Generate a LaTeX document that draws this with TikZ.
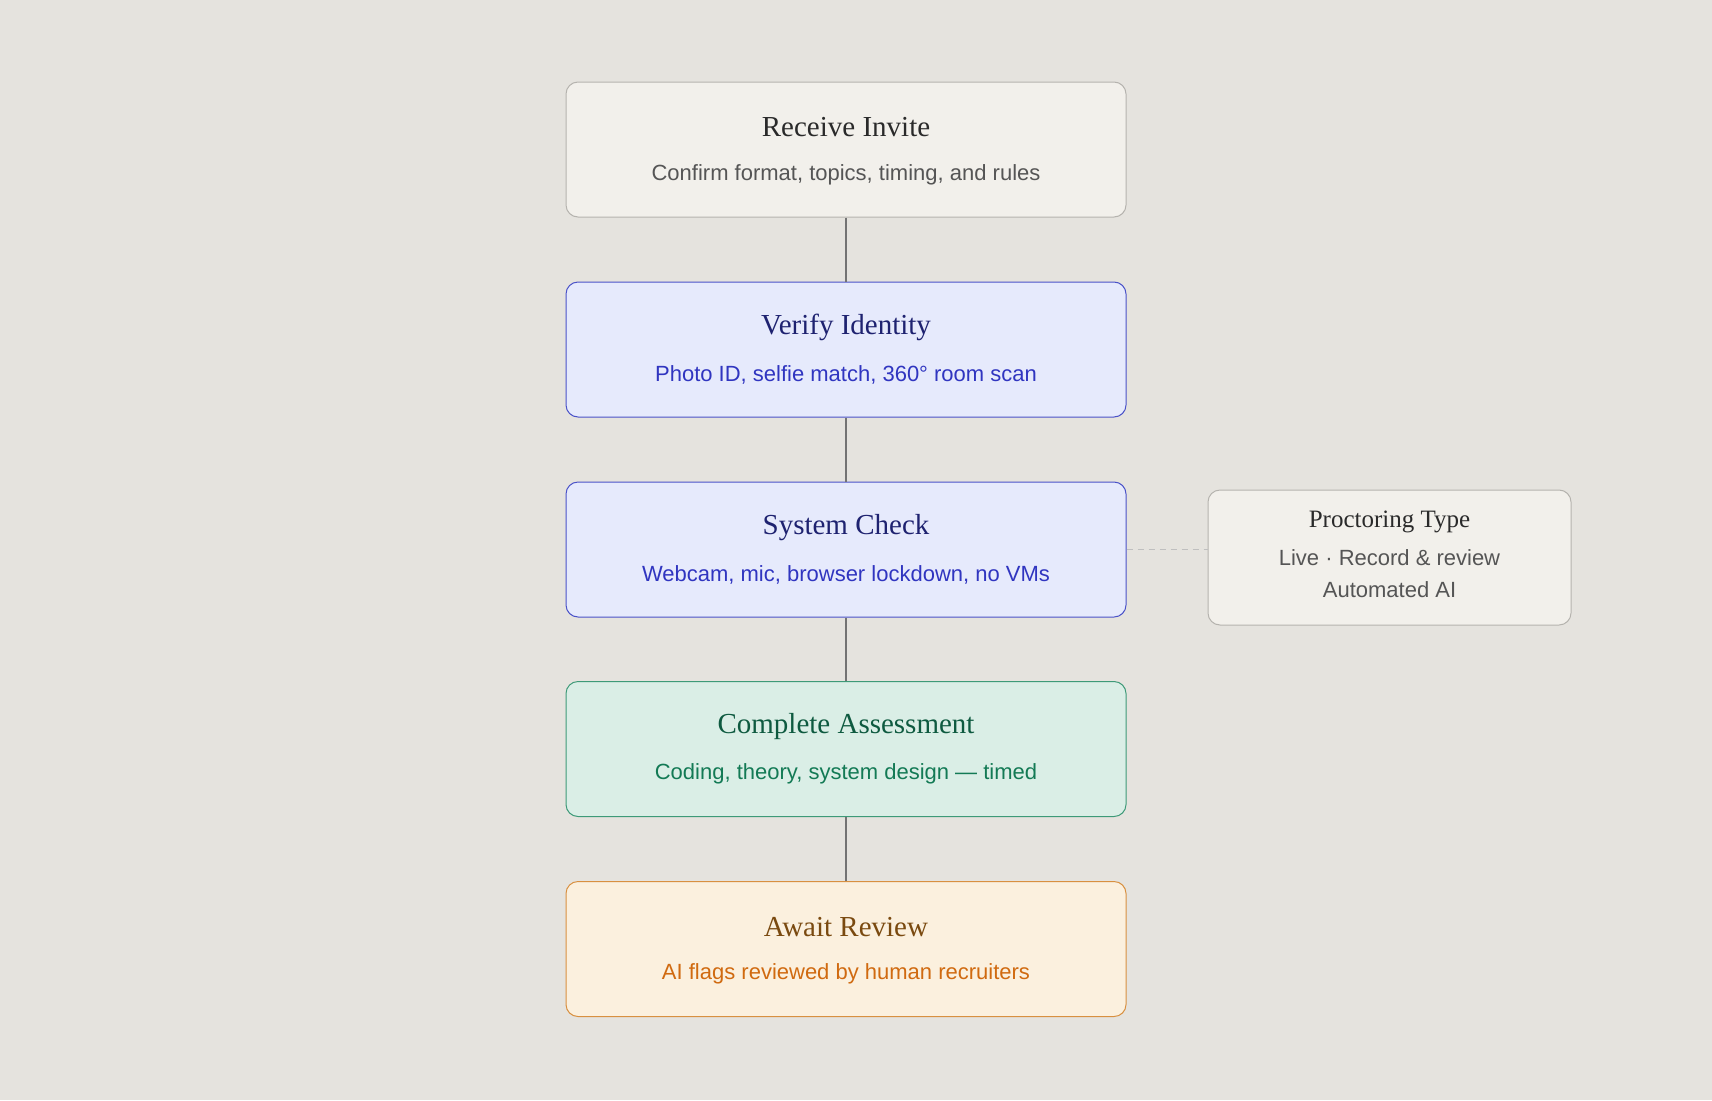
\documentclass[tikz,border=0pt]{standalone}
\usepackage{fontspec}
\setmainfont{Liberation Serif}
\setsansfont{Liberation Sans}
\begin{document}
\begin{tikzpicture}[x=1pt,y=-1pt,
  conn/.style={draw=black!55, line width=1.2pt}]
\definecolor{bg}{HTML}{E5E3DE}
\definecolor{gfill}{HTML}{F2F0EB}\definecolor{gline}{HTML}{B5B3AE}
\definecolor{bfill}{HTML}{E6EAFC}\definecolor{bline}{HTML}{4A52C8}
\definecolor{efill}{HTML}{DAEEE6}\definecolor{eline}{HTML}{3E9A78}
\definecolor{ofill}{HTML}{FBF0DE}\definecolor{oline}{HTML}{D89040}
\definecolor{gt}{HTML}{2A2A2A}\definecolor{gs}{HTML}{555555}
\definecolor{bt}{HTML}{1E2270}\definecolor{bs}{HTML}{3035C0}
\definecolor{et}{HTML}{0E5A40}\definecolor{es}{HTML}{137A55}
\definecolor{ot}{HTML}{7A4A10}\definecolor{os}{HTML}{D06A10}
\fill[bg] (0,0) rectangle (1712,1100);
\useasboundingbox (0,0) rectangle (1712,1100);
\tikzset{
 nb/.style 2 args={draw=#1, fill=#2, rounded corners=12pt, line width=1pt, minimum width=560pt, minimum height=135pt, align=center, inner sep=0pt}}
\node[nb={gline}{gfill}] (n1) at (846,149.5) {};
\node[nb={bline}{bfill}] (n2) at (846,349.5) {};
\node[nb={bline}{bfill}] (n3) at (846,549.5) {};
\node[nb={eline}{efill}] (n4) at (846,749) {};
\node[nb={oline}{ofill}] (n5) at (846,949) {};
\newcommand{\lbl}[6]{%
 \node[font=\fontsize{29}{34}\selectfont, text=#3] (#1t) at ([yshift=22pt]#2.center) {#4};
 \node[font=\sffamily\fontsize{22}{26}\selectfont, text=#5] (#1s) at ([yshift=-25pt]#2.center) {#6};}
\lbl{a}{n1}{gt}{Receive Invite}{gs}{Confirm format, topics, timing, and rules}
\lbl{b}{n2}{bt}{Verify Identity}{bs}{Photo ID, selfie match, 360° room scan}
\lbl{c}{n3}{bt}{System Check}{bs}{Webcam, mic, browser lockdown, no VMs}
\lbl{d}{n4}{et}{Complete Assessment}{es}{Coding, theory, system design — timed}
\lbl{e}{n5}{ot}{Await Review}{os}{AI flags reviewed by human recruiters}
\node[draw=gline, fill=gfill, rounded corners=12pt, line width=1pt, minimum width=363pt, minimum height=135pt] (side) at (1389.5,557.5) {};
\node[font=\fontsize{25}{30}\selectfont, text=gt] (st) at ([yshift=36pt]side.center) {Proctoring Type};
\node[font=\sffamily\fontsize{22}{32}\selectfont, text=gs, align=center] (ss) at ([yshift=-16pt]side.center) {Live · Record \& review\\Automated AI};
\draw[conn] (n1) -- (n2);
\draw[conn] (n2) -- (n3);
\draw[conn] (n3) -- (n4);
\draw[conn] (n4) -- (n5);
\draw[draw=black!25, line width=1.2pt, dash pattern=on 6pt off 5pt] (n3.east) -- (n3.east -| side.west);
\end{tikzpicture}
\end{document}
